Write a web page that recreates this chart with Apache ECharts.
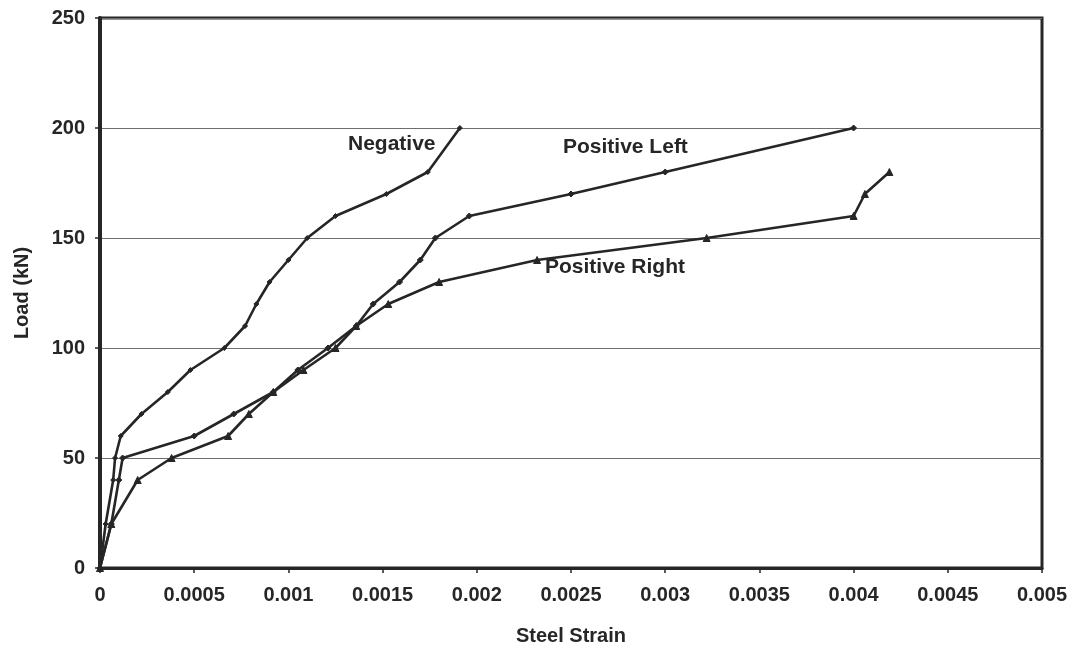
<!DOCTYPE html>
<html>
<head>
<meta charset="utf-8">
<script src="https://cdn.jsdelivr.net/npm/echarts@6/dist/echarts.min.js"></script>
<style>
  html, body { margin: 0; padding: 0; background: #ffffff; }
  #chart { width: 1080px; height: 655px; }
</style>
</head>
<body>
<div id="chart"></div>
<script>
// Load (kN) against steel strain for the three gauge positions
const negLoad = [0, 20, 40, 50, 60, 70, 80, 90, 100, 110, 120, 130, 140, 150, 160, 170, 180, 200];
const negStrain = [0, 0.00003, 0.00007, 0.00008, 0.00011, 0.00022, 0.00036, 0.00048, 0.00066, 0.00077, 0.00083, 0.0009, 0.001, 0.0011, 0.00125, 0.00152, 0.00174, 0.00191];

const posLeftLoad = [0, 20, 40, 50, 60, 70, 80, 90, 100, 110, 120, 130, 140, 150, 160, 170, 180, 200];
const posLeftStrain = [0, 0.00006, 0.0001, 0.00012, 0.0005, 0.00071, 0.00092, 0.00105, 0.00121, 0.00136, 0.00145, 0.00159, 0.0017, 0.00178, 0.00196, 0.0025, 0.003, 0.004];

const posRightLoad = [0, 20, 40, 50, 60, 70, 80, 90, 100, 110, 120, 130, 140, 150, 160, 170, 180];
const posRightStrain = [0, 0.00006, 0.0002, 0.00038, 0.00068, 0.00079, 0.00092, 0.00108, 0.00125, 0.00136, 0.00153, 0.0018, 0.00232, 0.00322, 0.004, 0.00406, 0.00419];

const seriesNames = ['Negative', 'Positive Left', 'Positive Right'];

function pairs(xs, ys) {
  return xs.map((x, i) => [x, ys[i]]);
}

const ink = '#262626';
const font = 'Liberation Sans, Arial, sans-serif';

const chart = echarts.init(document.getElementById('chart'), null, { renderer: 'canvas' });

function lineSeries(name, data, symbol, size) {
  return {
    name: name,
    type: 'line',
    data: data,
    symbol: symbol,
    symbolSize: size,
    showAllSymbol: true,
    lineStyle: { color: ink, width: 2.6 },
    itemStyle: { color: ink, borderColor: ink, borderWidth: 1 },
    emphasis: { disabled: true },
    animation: false
  };
}

chart.setOption({
  backgroundColor: '#ffffff',
  animation: false,
  grid: {
    left: 100, right: 38, top: 18, bottom: 87,
    show: true, borderColor: ink, borderWidth: 3, backgroundColor: 'transparent'
  },
  xAxis: {
    type: 'value',
    min: 0, max: 0.005, interval: 0.0005,
    name: 'Steel Strain',
    nameLocation: 'middle',
    nameGap: 58,
    nameTextStyle: { fontFamily: font, fontWeight: 'bold', fontSize: 20, color: ink },
    axisLine: { show: true, lineStyle: { color: ink, width: 3 } },
    axisTick: { show: true, inside: false, length: 5, lineStyle: { color: ink, width: 1.5 } },
    axisLabel: {
      margin: 17,
      fontFamily: font, fontWeight: 'bold', fontSize: 20, color: ink,
      formatter: v => String(parseFloat(v.toFixed(4)))
    },
    splitLine: { show: false }
  },
  yAxis: {
    type: 'value',
    min: 0, max: 250, interval: 50,
    name: 'Load (kN)',
    nameLocation: 'middle',
    nameGap: 68,
    nameRotate: 90,
    nameTextStyle: { fontFamily: font, fontWeight: 'bold', fontSize: 20, color: ink },
    axisLine: { show: true, lineStyle: { color: ink, width: 4 } },
    axisTick: { show: true, inside: false, length: 5, lineStyle: { color: ink, width: 1.5 } },
    axisLabel: {
      margin: 15,
      fontFamily: font, fontWeight: 'bold', fontSize: 20, color: ink
    },
    splitLine: { show: true, lineStyle: { color: '#6e6e6e', width: 1 } }
  },
  series: [
    lineSeries(seriesNames[0], pairs(negStrain, negLoad), 'diamond', 5),
    lineSeries(seriesNames[1], pairs(posLeftStrain, posLeftLoad), 'diamond', 6),
    lineSeries(seriesNames[2], pairs(posRightStrain, posRightLoad), 'triangle', 7)
  ],
  graphic: [
    { type: 'text', left: 348, top: 134, silent: true,
      style: { text: seriesNames[0], fill: ink, font: 'bold 21px ' + font } },
    { type: 'text', left: 563, top: 137, silent: true,
      style: { text: seriesNames[1], fill: ink, font: 'bold 21px ' + font } },
    { type: 'text', left: 545, top: 257, silent: true,
      style: { text: seriesNames[2], fill: ink, font: 'bold 21px ' + font } }
  ]
});
</script>
</body>
</html>
